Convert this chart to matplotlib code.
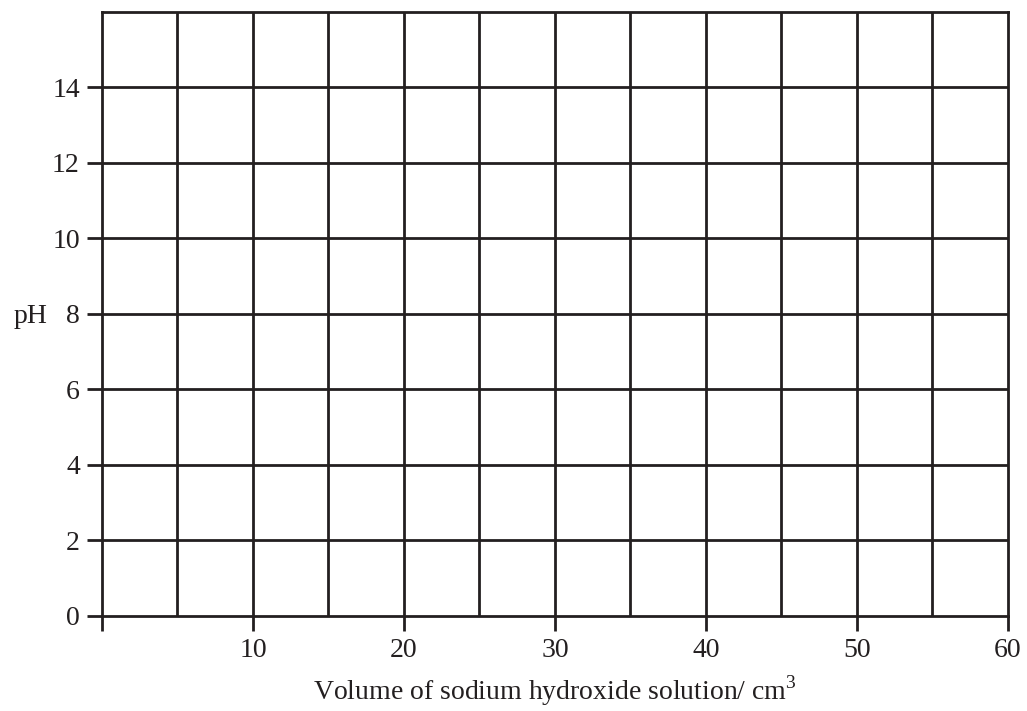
import matplotlib
matplotlib.use("Agg")
import matplotlib.pyplot as plt

plt.rcParams['font.family'] = ['Liberation Serif', 'DejaVu Serif']
plt.rcParams['mathtext.fontset'] = 'custom'
plt.rcParams['mathtext.rm'] = 'Liberation Serif'

# axis data
x_ticks = [0, 10, 20, 30, 40, 50, 60]
x_tick_labels = ['', '10', '20', '30', '40', '50', '60']
x_grid = [5, 10, 15, 20, 25, 30, 35, 40, 45, 50, 55]
y_ticks = [0, 2, 4, 6, 8, 10, 12, 14]
y_tick_labels = ['0', '2', '4', '6', '8', '10', '12', '14']
y_grid = [2, 4, 6, 8, 10, 12, 14]
x_range = (0, 60)
y_range = (0, 16)

ink = '#231f20'
lw = 2.0

fig = plt.figure(figsize=(10.27, 7.11), dpi=100)
ax = fig.add_axes([0.0993, 0.1343, 0.8822, 0.8495])
ax.set_xlim(*x_range)
ax.set_ylim(*y_range)

# grid lines
for xv in x_grid:
    ax.axvline(xv, color=ink, lw=lw, zorder=1)
for yv in y_grid:
    ax.axhline(yv, color=ink, lw=lw, zorder=1)

for s in ax.spines.values():
    s.set_color(ink)
    s.set_linewidth(lw)

ax.set_xticks(x_ticks)
ax.set_xticklabels(x_tick_labels)
ax.set_yticks(y_ticks)
ax.set_yticklabels(y_tick_labels)
ax.tick_params(axis='both', direction='out', length=11, width=lw, color=ink,
               labelsize=20, labelcolor=ink)
ax.tick_params(axis='x', pad=5)
ax.tick_params(axis='y', pad=5)

ax.set_xlabel('Volume of sodium hydroxide solution/ cm$^3$', fontsize=20,
              color=ink, labelpad=8)
ax.text(-0.06, 8, 'pH', transform=ax.get_yaxis_transform(), fontsize=20,
        color=ink, ha='right', va='center_baseline')

fig.savefig('out.png', dpi=100)
